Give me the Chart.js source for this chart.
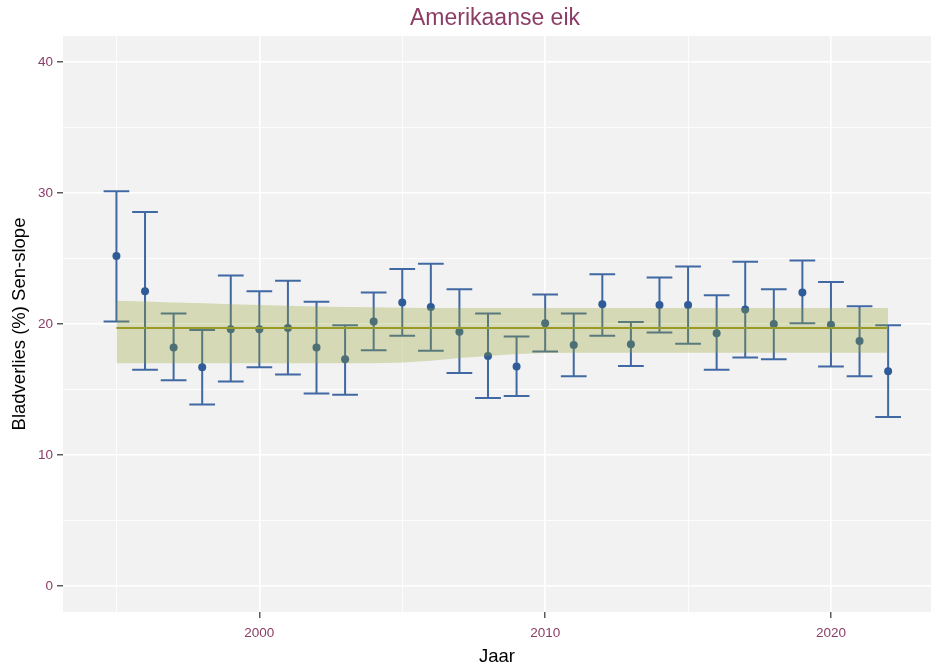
<!DOCTYPE html>
<html>
<head>
<meta charset="utf-8">
<script src="https://cdn.jsdelivr.net/npm/chart.js@4"></script>
<style>
  html, body { margin: 0; padding: 0; background: #ffffff; }
  #wrap { width: 931px; height: 668px; position: relative; }
</style>
</head>
<body>
<div id="wrap"><canvas id="c" width="931" height="668"></canvas></div>
<script>
// ---- data ----
const years = [1995,1996,1997,1998,1999,2000,2001,2002,2003,2004,2005,2006,2007,2008,2009,2010,2011,2012,2013,2014,2015,2016,2017,2018,2019,2020,2021,2022];
const meanValues = [25.2,22.5,18.2,16.7,19.6,19.6,19.7,18.2,17.3,20.2,21.65,21.3,19.4,17.55,16.75,20.05,18.4,21.5,18.45,21.45,21.45,19.3,21.1,20.0,22.4,19.95,18.7,16.4];
const lowerValues = [20.2,16.5,15.7,13.85,15.6,16.7,16.15,14.7,14.6,18.0,19.1,17.95,16.25,14.35,14.5,17.9,16.0,19.1,16.8,19.35,18.5,16.5,17.45,17.3,20.05,16.75,16.0,12.9];
const upperValues = [30.15,28.55,20.8,19.55,23.7,22.5,23.3,21.7,19.9,22.4,24.2,24.6,22.65,20.8,19.05,22.25,20.8,23.8,20.15,23.55,24.4,22.2,24.75,22.65,24.85,23.2,21.35,19.9];
const bandUpper = [21.78,21.72,21.65,21.58,21.51,21.45,21.39,21.34,21.30,21.27,21.25,21.23,21.22,21.22,21.22,21.22,21.22,21.22,21.22,21.22,21.22,21.22,21.22,21.22,21.22,21.22,21.22,21.22];
const bandLower = [17.0,17.0,17.0,17.0,17.0,17.0,17.0,17.0,17.0,17.0,17.05,17.2,17.4,17.55,17.7,17.78,17.8,17.8,17.8,17.8,17.8,17.8,17.8,17.8,17.8,17.8,17.8,17.8];
const trendYears = [1995, 2022];
const trendValues = [19.7, 19.7];
const xTicks = [1995, 2000, 2005, 2010, 2015, 2020];
const yTicks = [0, 5, 10, 15, 20, 25, 30, 35, 40];
const titleText = 'Amerikaanse eik';
const xTitle = 'Jaar';
const yTitle = 'Bladverlies (%) Sen-slope';

// ---- styles ----
const FONT = "'Liberation Sans', Arial, sans-serif";
const PURPLE = '#8B3D66';
const ERR_COLOR = '#4069A3';
const PT_COLOR = '#2F5C98';
const CAP_HALF = 0.45; // years
const PANEL_RIGHT = 931;

const pts = years.map((y, i) => ({x: y, y: meanValues[i]}));
const bandU = years.map((y, i) => ({x: y, y: bandUpper[i]}));
const bandL = years.map((y, i) => ({x: y, y: bandLower[i]}));
const trend = trendYears.map((y, i) => ({x: y, y: trendValues[i]}));

// let the panel run to the right edge of the canvas, like the (cropped) reference
const stretchPanel = {
  id: 'stretchPanel',
  afterLayout(chart) {
    const x = chart.scales.x;
    chart.chartArea.right = PANEL_RIGHT;
    chart.chartArea.width = PANEL_RIGHT - chart.chartArea.left;
    x.right = PANEL_RIGHT;
    x.width = PANEL_RIGHT - x.left;
    x.configure();
  }
};

const panelBg = {
  id: 'panelBg',
  beforeDraw(chart) {
    const {ctx, chartArea: a} = chart;
    ctx.save();
    ctx.fillStyle = '#F2F2F2';
    ctx.fillRect(a.left, a.top, a.right - a.left, a.bottom - a.top);
    ctx.restore();
  }
};

const errorBars = {
  id: 'errorBars',
  beforeDatasetsDraw(chart) {
    const {ctx, scales: {x, y}} = chart;
    ctx.save();
    ctx.strokeStyle = ERR_COLOR;
    ctx.lineWidth = 2;
    ctx.lineCap = 'butt';
    years.forEach((yr, i) => {
      const px = x.getPixelForValue(yr);
      const pl = x.getPixelForValue(yr - CAP_HALF);
      const pr = x.getPixelForValue(yr + CAP_HALF);
      const top = y.getPixelForValue(upperValues[i]);
      const bot = y.getPixelForValue(lowerValues[i]);
      ctx.beginPath();
      ctx.moveTo(px, top); ctx.lineTo(px, bot);
      ctx.moveTo(pl, top); ctx.lineTo(pr, top);
      ctx.moveTo(pl, bot); ctx.lineTo(pr, bot);
      ctx.stroke();
    });
    ctx.restore();
  }
};

new Chart(document.getElementById('c'), {
  type: 'scatter',
  data: {
    datasets: [
      { label: 'trend', data: trend, type: 'line', order: 1, borderColor: '#9A9A26', borderWidth: 2, pointRadius: 0, fill: false },
      { label: 'bandUpper', data: bandU, type: 'line', order: 2, borderColor: 'rgba(0,0,0,0)', borderWidth: 0, pointRadius: 0,
        fill: { target: 2 }, backgroundColor: 'rgba(150,160,40,0.30)' },
      { label: 'bandLower', data: bandL, type: 'line', order: 2, borderColor: 'rgba(0,0,0,0)', borderWidth: 0, pointRadius: 0, fill: false },
      { label: 'mean', data: pts, order: 3, pointRadius: 4, pointBackgroundColor: PT_COLOR, pointBorderWidth: 0, borderColor: PT_COLOR }
    ]
  },
  options: {
    responsive: false,
    animation: false,
    events: [],
    layout: { padding: { left: 0, right: 0, top: 0, bottom: 0 } },
    plugins: {
      legend: { display: false },
      tooltip: { enabled: false },
      title: {
        display: true, text: titleText, color: PURPLE, fullSize: false,
        font: { family: FONT, size: 23, weight: 'normal' },
        padding: { top: 5, bottom: 3.4 }
      }
    },
    scales: {
      x: {
        type: 'linear', min: 1993.13, max: 2023.5,
        afterBuildTicks(s) { s.ticks = xTicks.map(v => ({value: v})); },
        afterFit(s) { s.height = 56; },
        border: { display: false },
        grid: {
          color: '#FFFFFF',
          lineWidth: c => (c.tick && c.tick.value % 10 === 0) ? 1.6 : 0.8,
          tickColor: c => (c.tick && c.tick.value % 10 === 0) ? '#333333' : 'rgba(0,0,0,0)',
          tickWidth: 1.2, tickLength: 6
        },
        ticks: {
          autoSkip: false, maxRotation: 0, padding: 7, color: PURPLE,
          font: { family: FONT, size: 13.5 },
          callback: v => (v % 10 === 0) ? String(v) : ''
        },
        title: { display: true, text: xTitle, color: '#000000', font: { family: FONT, size: 18.5 }, padding: { top: 0, bottom: 0 } }
      },
      y: {
        type: 'linear', min: -2, max: 42,
        afterBuildTicks(s) { s.ticks = yTicks.map(v => ({value: v})); },
        afterFit(s) { s.width = 63; },
        border: { display: false },
        grid: {
          color: '#FFFFFF',
          lineWidth: c => (c.tick && c.tick.value % 10 === 0) ? 1.6 : 0.8,
          tickColor: c => (c.tick && c.tick.value % 10 === 0) ? '#333333' : 'rgba(0,0,0,0)',
          tickWidth: 1.2, tickLength: 6
        },
        ticks: {
          autoSkip: false, padding: 4, color: PURPLE,
          font: { family: FONT, size: 13.5 },
          callback: v => (v % 10 === 0) ? String(v) : ''
        },
        title: { display: true, text: yTitle, color: '#000000', font: { family: FONT, size: 18.5 }, padding: { top: 9, bottom: 0 } }
      }
    }
  },
  plugins: [stretchPanel, panelBg, errorBars]
});
</script>
</body>
</html>
